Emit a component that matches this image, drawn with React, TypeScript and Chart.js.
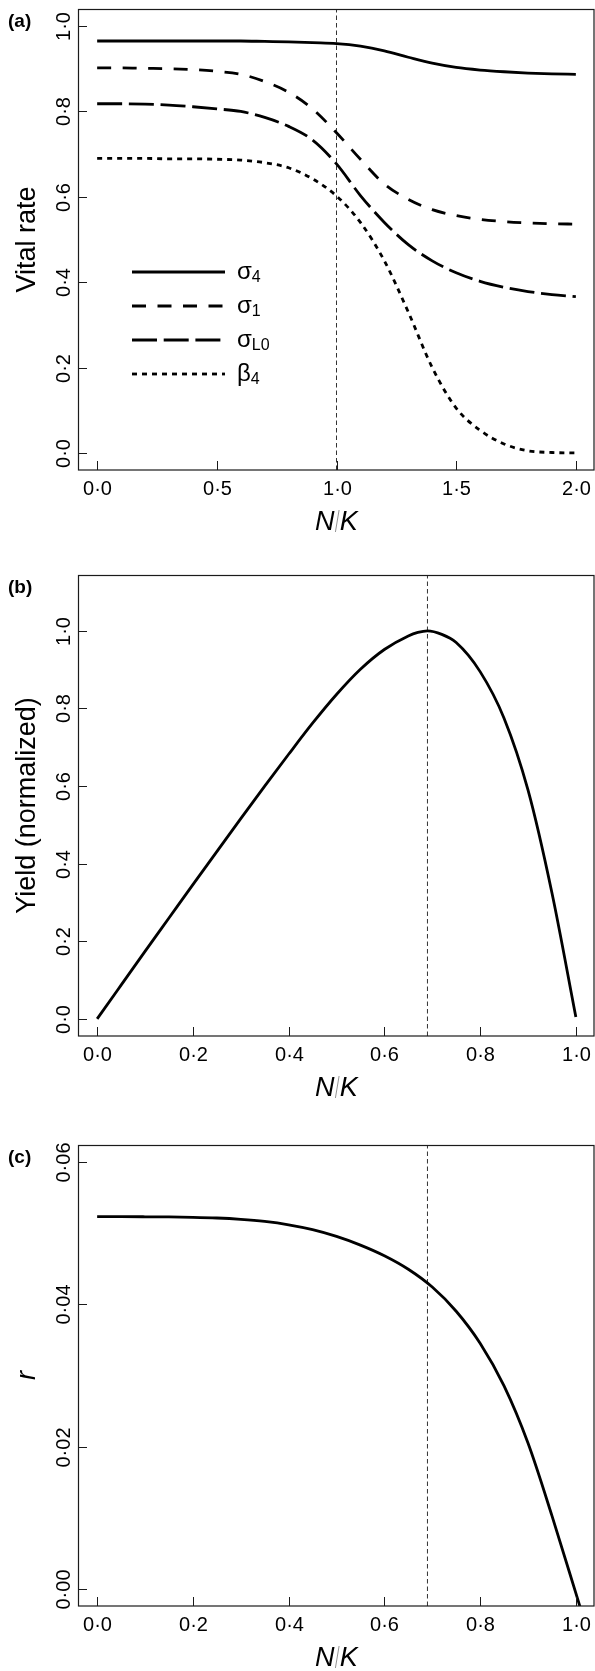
import React, { useEffect, useRef } from "react";
import { Chart, registerables } from "chart.js";

Chart.register(...registerables);

const FONT = '"Liberation Sans", Arial, Helvetica, sans-serif';

// ---------- Panel (a) data ----------
const xA = [0, 0.1, 0.2, 0.3, 0.4, 0.5, 0.6, 0.7, 0.8, 0.9, 1.0, 1.1, 1.2, 1.3, 1.4, 1.5, 1.6, 1.7, 1.8, 1.9, 2.0];
const sigma4 = [0.965, 0.965, 0.965, 0.965, 0.965, 0.965, 0.965, 0.964, 0.963, 0.961, 0.959, 0.953, 0.942, 0.927, 0.913, 0.903, 0.897, 0.893, 0.890, 0.888, 0.887];
const sigma1 = [0.902, 0.902, 0.901, 0.900, 0.898, 0.894, 0.887, 0.870, 0.845, 0.806, 0.750, 0.688, 0.630, 0.594, 0.570, 0.556, 0.547, 0.542, 0.539, 0.537, 0.536];
const sigmaL0 = [0.818, 0.818, 0.817, 0.815, 0.811, 0.806, 0.800, 0.786, 0.765, 0.733, 0.677, 0.603, 0.540, 0.488, 0.450, 0.422, 0.402, 0.388, 0.378, 0.371, 0.366];
const beta4 = [0.690, 0.690, 0.690, 0.689, 0.689, 0.688, 0.686, 0.680, 0.668, 0.642, 0.602, 0.540, 0.450, 0.330, 0.200, 0.105, 0.053, 0.021, 0.005, 0.001, 0.0];
const xTicksA = [0, 0.5, 1.0, 1.5, 2.0];
const yTicksA = [0, 0.2, 0.4, 0.6, 0.8, 1.0];
const refA = 1.0;

// ---------- Panel (b) data ----------
const xB = [0, 0.05, 0.1, 0.15, 0.2, 0.25, 0.3, 0.35, 0.4, 0.45, 0.5, 0.55, 0.6, 0.65, 0.67, 0.69, 0.72, 0.75, 0.8, 0.85, 0.9, 0.95, 1.0];
const yieldB = [0, 0.087, 0.174, 0.26, 0.346, 0.431, 0.516, 0.6, 0.682, 0.762, 0.836, 0.901, 0.952, 0.987, 0.996, 1.0, 0.991, 0.97, 0.895, 0.775, 0.59, 0.325, 0.005];
const xTicksB = [0, 0.2, 0.4, 0.6, 0.8, 1.0];
const yTicksB = [0, 0.2, 0.4, 0.6, 0.8, 1.0];
const refB = 0.69;

// ---------- Panel (c) data ----------
const xC = [0, 0.05, 0.1, 0.15, 0.2, 0.25, 0.3, 0.35, 0.4, 0.45, 0.5, 0.55, 0.6, 0.65, 0.7, 0.75, 0.8, 0.85, 0.9, 0.95, 1.0, 1.02];
const rC = [0.05232, 0.05232, 0.05231, 0.05229, 0.05224, 0.05214, 0.05195, 0.05165, 0.05118, 0.0505, 0.04955, 0.04833, 0.04683, 0.04493, 0.04243, 0.03903, 0.03453, 0.02853, 0.0205, 0.0103, -0.0006, -0.005];
const xTicksC = [0, 0.2, 0.4, 0.6, 0.8, 1.0];
const yTicksC = [0, 0.02, 0.04, 0.06];
const refC = 0.69;

const legendA = [
  { sym: "σ", sub: "4", dash: [] as number[] },
  { sym: "σ", sub: "1", dash: [14, 11.5] },
  { sym: "σ", sub: "L0", dash: [25, 6.7] },
  { sym: "β", sub: "4", dash: [5, 5] },
];

type Series = { xs: number[]; ys: number[]; dash: number[] };
type PanelCfg = {
  label: string;
  yTitle: string;
  yItalic: boolean;
  xMin: number; xMax: number; yMin: number; yMax: number;
  xTicks: number[]; xDec: number;
  yTicks: number[]; yDec: number;
  ref: number;
  series: Series[];
  padding: { top: number; bottom: number; left: number; right: number };
  legend: boolean;
};

const fmt = (v: number, d: number) => v.toFixed(d).replace(".", "·");

function makeDecor(cfg: PanelCfg) {
  return {
    id: "decor",
    afterDraw(chart: any) {
      const ctx: CanvasRenderingContext2D = chart.ctx;
      const { left, right, top, bottom } = chart.chartArea;
      const xs = chart.scales.x;
      const ys = chart.scales.y;
      ctx.save();
      // box
      ctx.strokeStyle = "#1a1a1a";
      ctx.lineWidth = 1.2;
      ctx.setLineDash([]);
      ctx.strokeRect(left + 0.5, top + 0.5, right - left - 1.5, bottom - top - 0.5);
      // ticks
      ctx.lineWidth = 1;
      ctx.fillStyle = "#000";
      ctx.font = `20px ${FONT}`;
      ctx.textAlign = "center";
      ctx.textBaseline = "alphabetic";
      for (const v of cfg.xTicks) {
        const px = Math.round(xs.getPixelForValue(v)) + 0.5;
        ctx.beginPath();
        ctx.moveTo(px, bottom);
        ctx.lineTo(px, bottom - 9);
        ctx.stroke();
        ctx.fillText(fmt(v, cfg.xDec), px, bottom + 25);
      }
      for (const v of cfg.yTicks) {
        const py = Math.round(ys.getPixelForValue(v)) + 0.5;
        ctx.beginPath();
        ctx.moveTo(left, py);
        ctx.lineTo(left + 9, py);
        ctx.stroke();
        ctx.save();
        ctx.translate(left - 8, py);
        ctx.rotate(-Math.PI / 2);
        ctx.fillText(fmt(v, cfg.yDec), 0, 0);
        ctx.restore();
      }
      // x title N/K
      const cx = (left + right) / 2;
      const by = bottom + 60;
      ctx.font = `italic 27px ${FONT}`;
      const wN = ctx.measureText("N").width;
      const wK = ctx.measureText("K").width;
      ctx.font = `27px ${FONT}`;
      const wS = ctx.measureText("/").width * 0.7;
      const total = wN + wS + wK;
      const x0 = cx - total / 2;
      ctx.textAlign = "left";
      ctx.font = `italic 27px ${FONT}`;
      ctx.fillText("N", x0, by);
      ctx.strokeStyle = "#888";
      ctx.lineWidth = 0.9;
      ctx.beginPath();
      ctx.moveTo(x0 + wN + wS * 0.85, by - 20);
      ctx.lineTo(x0 + wN + wS * 0.15, by + 2);
      ctx.stroke();
      ctx.fillText("K", x0 + wN + wS, by);
      // y title
      ctx.save();
      ctx.translate(left - 43, (top + bottom) / 2);
      ctx.rotate(-Math.PI / 2);
      ctx.textAlign = "center";
      ctx.font = `${cfg.yItalic ? "italic " : ""}27px ${FONT}`;
      ctx.fillText(cfg.yTitle, 0, 0);
      ctx.restore();
      // panel label
      ctx.textAlign = "left";
      ctx.font = `bold 19px ${FONT}`;
      ctx.fillText(cfg.label, 8, top + 18);
      // legend
      if (cfg.legend) {
        for (let i = 0; i < legendA.length; i++) {
          const e = legendA[i];
          const ly = top + 263 + i * 34;
          ctx.strokeStyle = "#000";
          ctx.lineWidth = 2.8;
          ctx.setLineDash(e.dash);
          ctx.beginPath();
          ctx.moveTo(left + 54, ly);
          ctx.lineTo(left + 147, ly);
          ctx.stroke();
          ctx.setLineDash([]);
          ctx.font = `24px ${FONT}`;
          const tx = left + 159;
          ctx.fillText(e.sym, tx, ly + 6.5);
          const w = ctx.measureText(e.sym).width;
          ctx.font = `16px ${FONT}`;
          ctx.fillText(e.sub, tx + w, ly + 9.5);
        }
      }
      ctx.restore();
    },
  };
}

const panels: PanelCfg[] = [
  {
    label: "(a)", yTitle: "Vital rate", yItalic: false,
    xMin: -0.08, xMax: 2.08, yMin: -0.04, yMax: 1.04,
    xTicks: xTicksA, xDec: 1, yTicks: yTicksA, yDec: 1, ref: refA,
    series: [
      { xs: xA, ys: sigma4, dash: [] },
      { xs: xA, ys: sigma1, dash: [14, 11.5] },
      { xs: xA, ys: sigmaL0, dash: [25, 6.7] },
      { xs: xA, ys: beta4, dash: [5, 5] },
    ],
    padding: { top: 9, bottom: 87, left: 78, right: 0 },
    legend: true,
  },
  {
    label: "(b)", yTitle: "Yield (normalized)", yItalic: false,
    xMin: -0.04, xMax: 1.04, yMin: -0.044, yMax: 1.144,
    xTicks: xTicksB, xDec: 1, yTicks: yTicksB, yDec: 1, ref: refB,
    series: [{ xs: xB, ys: yieldB, dash: [] }],
    padding: { top: 18, bottom: 78, left: 78, right: 0 },
    legend: false,
  },
  {
    label: "(c)", yTitle: "r", yItalic: true,
    xMin: -0.04, xMax: 1.04, yMin: -0.0024, yMax: 0.0624,
    xTicks: xTicksC, xDec: 1, yTicks: yTicksC, yDec: 2, ref: refC,
    series: [{ xs: xC, ys: rC, dash: [] }],
    padding: { top: 31, bottom: 65, left: 78, right: 0 },
    legend: false,
  },
];

function Panel({ cfg }: { cfg: PanelCfg }) {
  const ref = useRef<HTMLCanvasElement | null>(null);
  useEffect(() => {
    if (!ref.current) return;
    const datasets: any[] = cfg.series.map((s) => ({
      data: s.xs.map((x, i) => ({ x, y: s.ys[i] })),
      borderColor: "#000",
      borderWidth: 2.8,
      borderDash: s.dash,
      fill: false,
      pointRadius: 0,
      cubicInterpolationMode: "monotone",
    }));
    datasets.push({
      data: [
        { x: cfg.ref, y: cfg.yMin },
        { x: cfg.ref, y: cfg.yMax },
      ],
      borderColor: "#333",
      borderWidth: 1,
      borderDash: [4.5, 3],
      fill: false,
      pointRadius: 0,
      tension: 0,
    });
    const chart = new Chart(ref.current, {
      type: "line",
      data: { datasets },
      options: {
        responsive: false,
        animation: false,
        devicePixelRatio: 1,
        layout: { padding: cfg.padding },
        plugins: { legend: { display: false }, tooltip: { enabled: false }, title: { display: false } },
        scales: {
          x: { type: "linear", min: cfg.xMin, max: cfg.xMax, display: false },
          y: { type: "linear", min: cfg.yMin, max: cfg.yMax, display: false },
        },
      },
      plugins: [makeDecor(cfg)],
    } as any);
    return () => chart.destroy();
  }, [cfg]);
  return <canvas ref={ref} width={595} height={557} style={{ display: "block", width: 595, height: 557 }} />;
}

export default function App() {
  return (
    <div style={{ position: "absolute", left: 0, top: 0, width: 595, height: 1671, background: "#fff" }}>
      {panels.map((p) => (
        <Panel key={p.label} cfg={p} />
      ))}
    </div>
  );
}
